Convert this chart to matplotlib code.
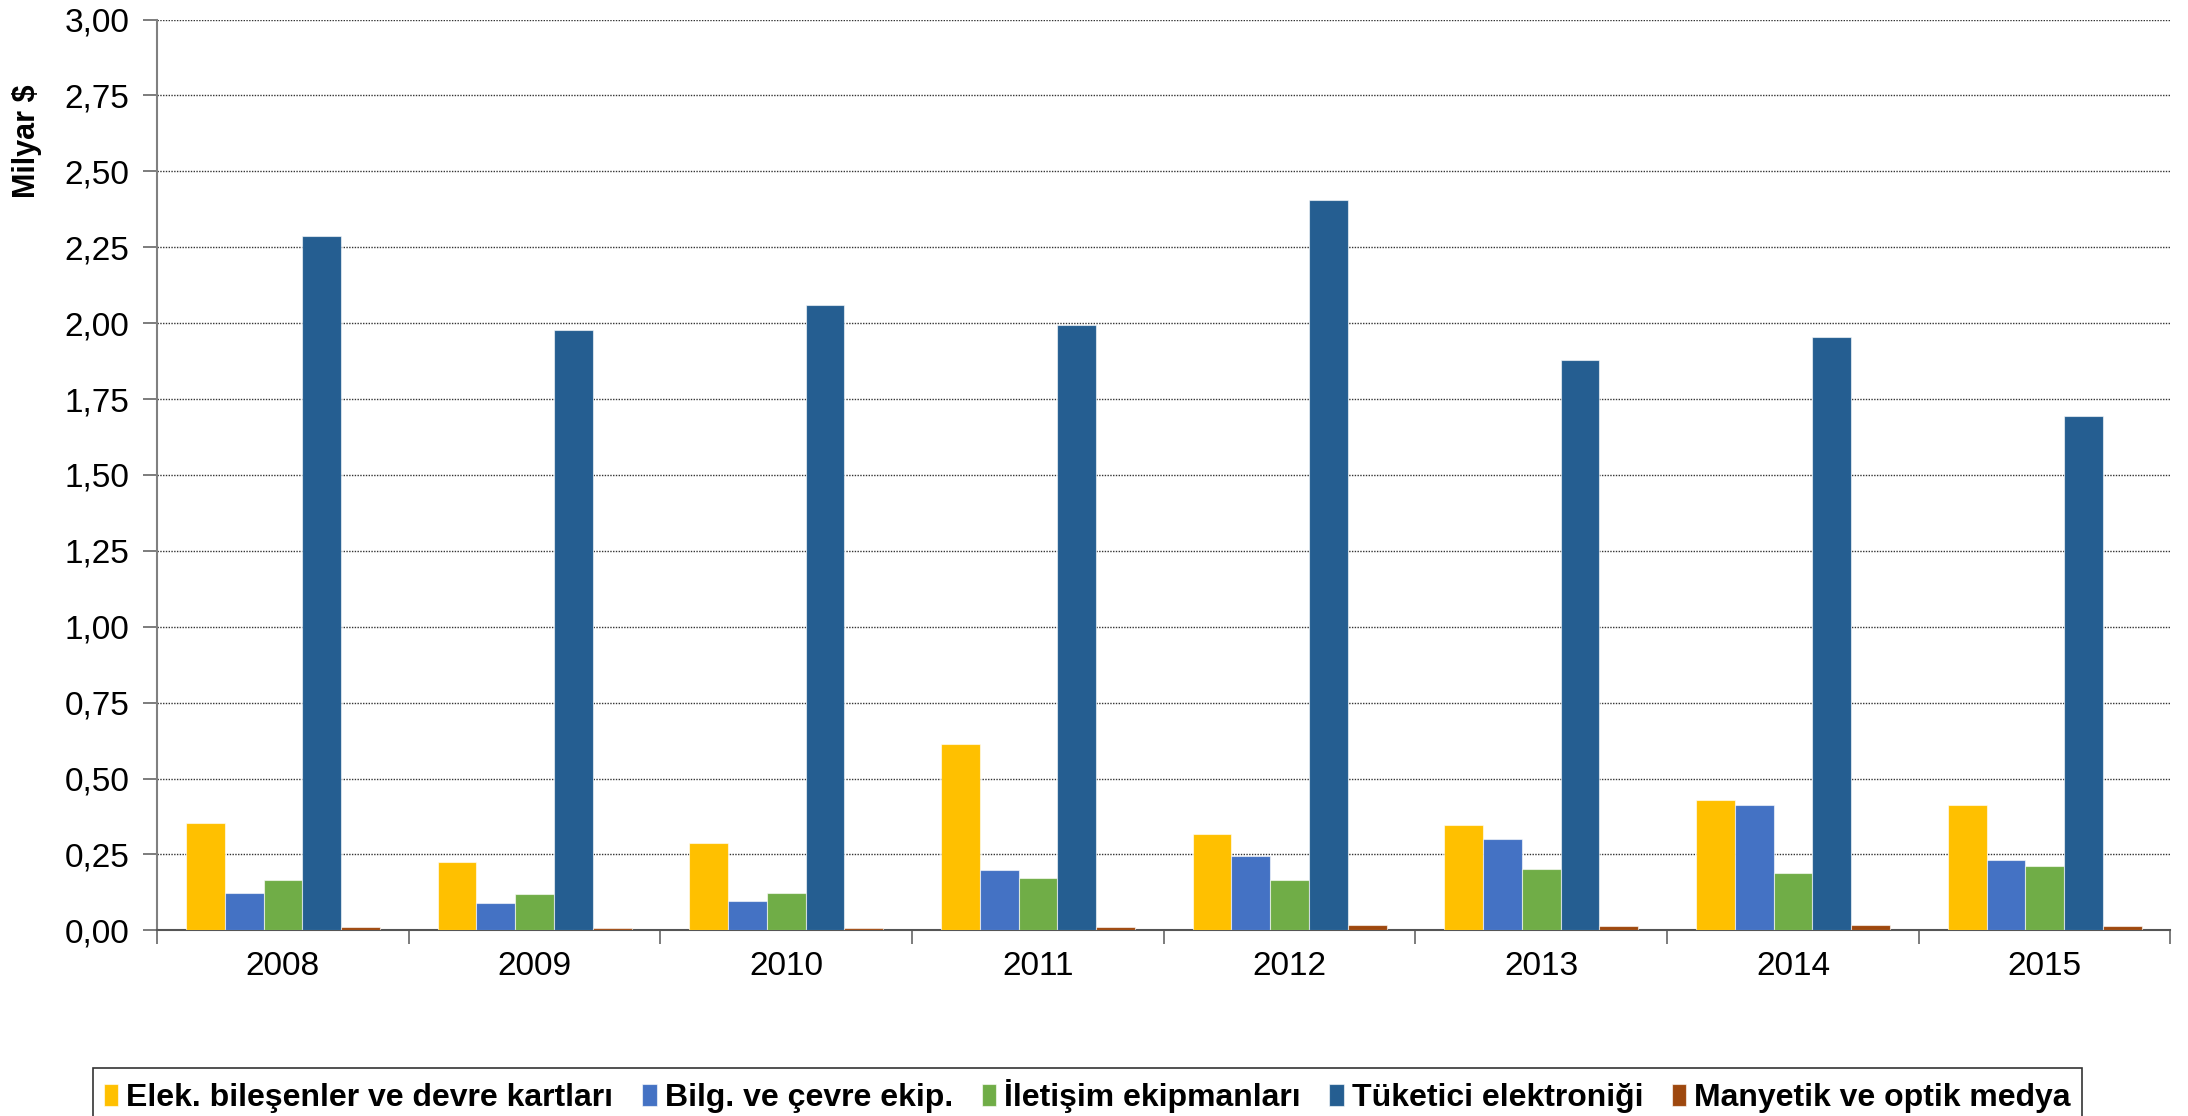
import numpy as np
import matplotlib
matplotlib.use("Agg")
import matplotlib.pyplot as plt
from matplotlib.ticker import FuncFormatter, FixedLocator

plt.rcParams['font.family'] = ['Liberation Sans', 'DejaVu Sans']

years = ['2008', '2009', '2010', '2011', '2012', '2013', '2014', '2015']

elek_bilesen = [0.354, 0.226, 0.288, 0.613, 0.318, 0.348, 0.428, 0.413]
bilg_cevre = [0.122, 0.089, 0.097, 0.199, 0.246, 0.302, 0.414, 0.232]
iletisim = [0.166, 0.119, 0.124, 0.171, 0.166, 0.202, 0.189, 0.212]
tuketici = [2.287, 1.977, 2.059, 1.995, 2.404, 1.878, 1.953, 1.695]
manyetik = [0.011, 0.007, 0.009, 0.010, 0.016, 0.013, 0.016, 0.014]

series = [
    ("Elek. bileşenler ve devre kartları", elek_bilesen, "#FFC000"),
    ("Bilg. ve çevre ekip.", bilg_cevre, "#4472C4"),
    ("İletişim ekipmanları", iletisim, "#70AD47"),
    ("Tüketici elektroniği", tuketici, "#255E91"),
    ("Manyetik ve optik medya", manyetik, "#9E480E"),
]

fig = plt.figure(figsize=(21.88, 11.16), dpi=100)
ax = fig.add_axes([0.0718, 0.1664, 0.9202, 0.8161])

x = np.arange(len(years))
w = 0.154
for i, (name, vals, col) in enumerate(series):
    ax.bar(x + (i - 2) * w, vals, w, color=col, label=name,
           edgecolor=(1, 1, 1, 0.6), linewidth=0.8, zorder=3)

ax.set_xlim(-0.5, len(years) - 0.5)
ax.set_ylim(0, 3.0)
ax.set_yticks(np.arange(0, 3.01, 0.25))
ax.yaxis.set_major_formatter(FuncFormatter(lambda v, p: f"{v:.2f}".replace('.', ',')))
ax.yaxis.grid(True, color='#333333', linestyle=(0, (1, 1)), linewidth=1.0, zorder=0)

# group boundaries carry the tick marks, labels sit at the centres
ax.xaxis.set_major_locator(FixedLocator(np.arange(-0.5, len(years), 1.0)))
ax.xaxis.set_minor_locator(FixedLocator(x))
ax.set_xticklabels([])
ax.set_xticklabels(years, minor=True)
ax.tick_params(axis='x', which='major', length=10, width=1.2, color='#666666', direction='out')
ax.tick_params(axis='x', which='minor', length=0, pad=15, labelsize=24)
ax.tick_params(axis='y', length=10, width=1.2, color='#666666', labelsize=24, pad=10)

for s in ['top', 'right']:
    ax.spines[s].set_visible(False)
ax.spines['left'].set_color('#808080')
ax.spines['left'].set_linewidth(1.5)
ax.spines['bottom'].set_color('#555555')
ax.spines['bottom'].set_linewidth(1.5)

ax.set_ylabel("Milyar $", fontsize=22, fontweight='bold')
ax.yaxis.set_label_coords(-0.057, 0.866)

leg = fig.legend(loc='upper center', bbox_to_anchor=(0.497, 0.043), ncol=5,
                 frameon=True, fancybox=False, edgecolor='black',
                 prop={'size': 23, 'weight': 'bold'},
                 handlelength=0.45, handleheight=0.7, handletextpad=0.25,
                 columnspacing=0.9, borderpad=0.35, borderaxespad=0)
leg.get_frame().set_linewidth(1.2)

fig.savefig('out.png', dpi=100)
